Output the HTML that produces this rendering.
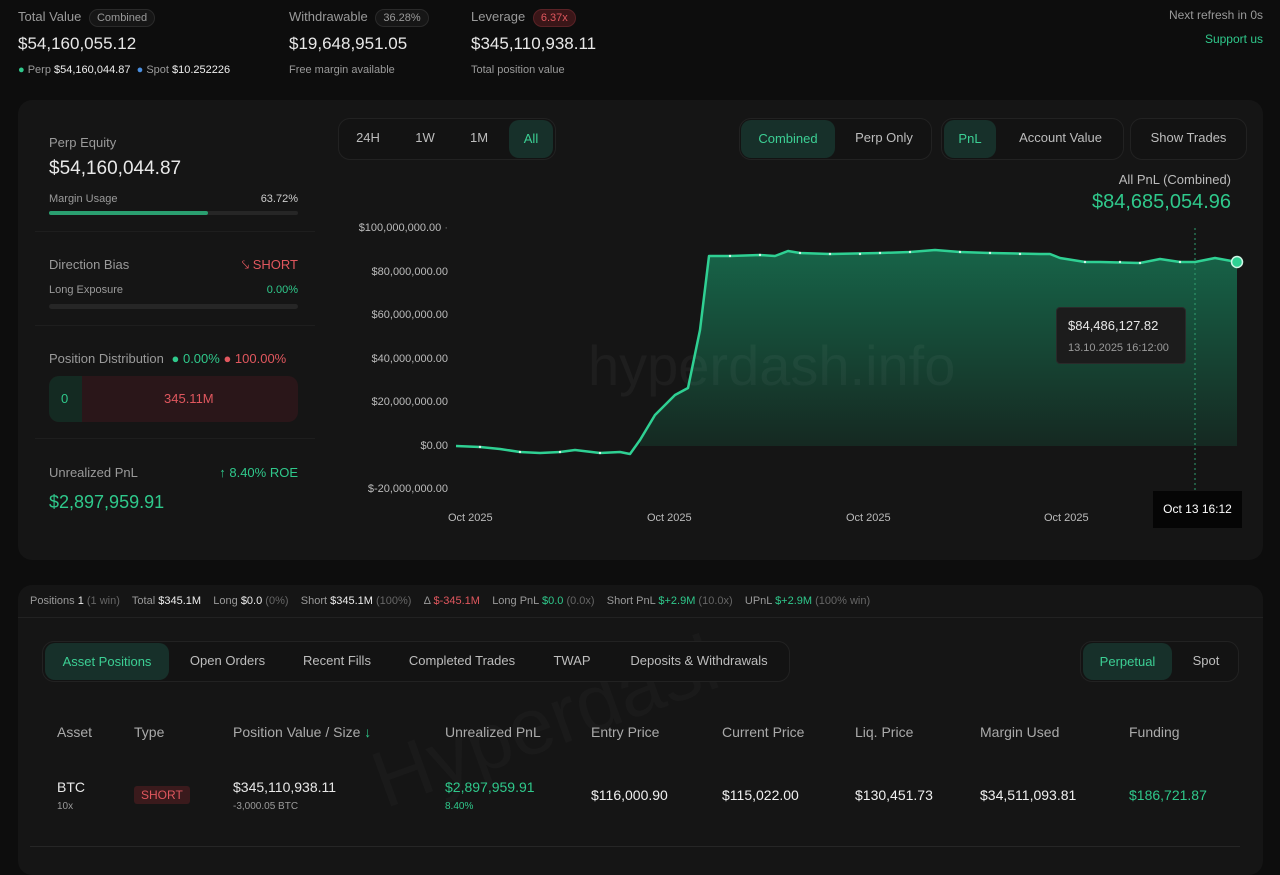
<!DOCTYPE html>
<html><head><meta charset="utf-8"><style>
*{box-sizing:border-box;margin:0;padding:0}
body{width:1280px;height:857px;overflow:hidden;background:#0d0d0d;font-family:"Liberation Sans",sans-serif;color:#e8e8e8;position:relative}
.a{position:absolute;white-space:nowrap}
.g{color:#9a9a9a}.gr{color:#2fc88b}.rd{color:#e0575e}
.pill{display:inline-block;border:1px solid #2a2a2a;border-radius:10px;padding:2px 7px;font-size:11px;color:#9a9a9a;background:#161616}
.panel{position:absolute;background:#151515;border-radius:14px}
.btn{position:absolute;font-size:13px;color:#bdbdbd;text-align:center;line-height:38px;height:38px}
.grp{position:absolute;border:1px solid #222;border-radius:12px;height:42px;background:#131313}
.on{background:#17302a;color:#3ccf94;border-radius:10px}
.yl{position:absolute;right:832px;font-size:11px;color:#bbb;text-align:right}
.th{position:absolute;top:724px;font-size:14px;color:#aaa}
.td{position:absolute;top:787px;font-size:14px;color:#f0f0f0}
</style></head><body>
<div class="a g" style="left:18px;top:9px;font-size:13px">Total Value <span class="pill" style="margin-left:4px">Combined</span></div>
<div class="a" style="left:18px;top:34px;font-size:17px">$54,160,055.12</div>
<div class="a g" style="left:18px;top:64px;font-size:11px"><span class="gr">●</span> Perp <span style="color:#eee">$54,160,044.87</span> &nbsp;<span style="color:#4a8fe0">●</span> Spot <span style="color:#eee">$10.252226</span></div>
<div class="a g" style="left:289px;top:9px;font-size:13px">Withdrawable <span class="pill" style="margin-left:4px">36.28%</span></div>
<div class="a" style="left:289px;top:34px;font-size:17px">$19,648,951.05</div>
<div class="a g" style="left:289px;top:64px;font-size:11px">Free margin available</div>
<div class="a g" style="left:471px;top:9px;font-size:13px">Leverage <span class="pill" style="margin-left:4px;background:#3a1618;border-color:#5a2226;color:#e0575e">6.37x</span></div>
<div class="a" style="left:471px;top:34px;font-size:17px">$345,110,938.11</div>
<div class="a g" style="left:471px;top:64px;font-size:11px">Total position value</div>
<div class="a g" style="right:17px;top:8px;font-size:12px">Next refresh in 0s</div>
<div class="a gr" style="right:17px;top:32px;font-size:12px">Support us</div>

<div class="panel" style="left:18px;top:100px;width:1245px;height:460px"></div>
<div class="a g" style="left:49px;top:135px;font-size:13px">Perp Equity</div>
<div class="a" style="left:49px;top:158px;font-size:19px">$54,160,044.87</div>
<div class="a g" style="left:49px;top:193px;font-size:11px">Margin Usage</div>
<div class="a" style="right:982px;top:193px;font-size:11px;color:#ccc">63.72%</div>
<div class="a" style="left:49px;top:211px;width:249px;height:4px;background:#262626;border-radius:2px"><div style="width:159px;height:4px;background:#2a9f70;border-radius:2px"></div></div>
<div class="a" style="left:35px;top:231px;width:280px;height:1px;background:#1e1e1e"></div>
<div class="a g" style="left:49px;top:257px;font-size:13px">Direction Bias</div>
<div class="a rd" style="right:982px;top:257px;font-size:13px">⤥ SHORT</div>
<div class="a g" style="left:49px;top:284px;font-size:11px">Long Exposure</div>
<div class="a gr" style="right:982px;top:284px;font-size:11px">0.00%</div>
<div class="a" style="left:49px;top:304px;width:249px;height:5px;background:#262626;border-radius:3px"></div>
<div class="a" style="left:35px;top:325px;width:280px;height:1px;background:#1e1e1e"></div>
<div class="a g" style="left:49px;top:351px;font-size:13px">Position Distribution <span class="gr" style="margin-left:4px">● 0.00%</span> <span class="rd">● 100.00%</span></div>
<div class="a" style="left:49px;top:376px;width:249px;height:46px;border-radius:10px;background:#2a1619;overflow:hidden"><div style="position:absolute;left:0;top:0;width:33px;height:46px;background:#142a22"></div><span class="a gr" style="left:12px;top:15px;font-size:13px">0</span><span class="a rd" style="left:115px;top:15px;font-size:13px">345.11M</span></div>
<div class="a" style="left:35px;top:438px;width:280px;height:1px;background:#1e1e1e"></div>
<div class="a g" style="left:49px;top:465px;font-size:13px">Unrealized PnL</div>
<div class="a gr" style="right:982px;top:465px;font-size:13px">↑ 8.40% ROE</div>
<div class="a gr" style="left:49px;top:492px;font-size:18px">$2,897,959.91</div>

<div class="grp" style="left:338px;top:118px;width:218px"></div>
<div class="btn" style="left:348px;top:119px;width:40px">24H</div>
<div class="btn" style="left:405px;top:119px;width:40px">1W</div>
<div class="btn" style="left:459px;top:119px;width:40px">1M</div>
<div class="btn on" style="left:509px;top:120px;width:44px">All</div>
<div class="grp" style="left:739px;top:118px;width:193px"></div>
<div class="btn on" style="left:741px;top:120px;width:94px">Combined</div>
<div class="btn" style="left:840px;top:119px;width:88px">Perp Only</div>
<div class="grp" style="left:941px;top:118px;width:183px"></div>
<div class="btn on" style="left:944px;top:120px;width:52px">PnL</div>
<div class="btn" style="left:1003px;top:119px;width:115px">Account Value</div>
<div class="grp" style="left:1130px;top:118px;width:117px"></div>
<div class="btn" style="left:1132px;top:119px;width:113px">Show Trades</div>
<div class="a g" style="right:49px;top:172px;font-size:13px;color:#bbb">All PnL (Combined)</div>
<div class="a gr" style="right:49px;top:191px;font-size:20px">$84,685,054.96</div>

<div class="yl" style="top:222px">$100,000,000.00 <span style="color:#777">·</span></div>
<div class="yl" style="top:266px;right:832px">$80,000,000.00</div>
<div class="yl" style="top:309px">$60,000,000.00</div>
<div class="yl" style="top:353px">$40,000,000.00</div>
<div class="yl" style="top:396px">$20,000,000.00</div>
<div class="yl" style="top:440px">$0.00</div>
<div class="yl" style="top:483px">$-20,000,000.00</div>
<div class="a" style="left:448px;top:512px;font-size:11px;color:#bbb">Oct 2025</div>
<div class="a" style="left:647px;top:512px;font-size:11px;color:#bbb">Oct 2025</div>
<div class="a" style="left:846px;top:512px;font-size:11px;color:#bbb">Oct 2025</div>
<div class="a" style="left:1044px;top:512px;font-size:11px;color:#bbb">Oct 2025</div>
<svg class="a" style="left:0;top:0" width="1280" height="560">
<defs><linearGradient id="f" x1="0" y1="0" x2="0" y2="1"><stop offset="0" stop-color="#17684b"/><stop offset="1" stop-color="#152a22"/></linearGradient></defs>
<path d="M640,446 L640,440 655,415 665,405 675,395 688,388 700,330 709,256 730,256 760,255 775,256 788,251 800,253 830,254 880,253 910,252 935,250 960,252 990,253 1040,254 1050,254 1060,258 1085,262 1100,262 1140,263 1160,259 1180,262 1195,262 1215,258 1237,262 L1237,446Z" fill="url(#f)" opacity="0.95"/>
<text x="588" y="385" font-family="Liberation Sans" font-size="56" fill="#ffffff" fill-opacity="0.04">hyperdash.info</text>
<polyline fill="none" stroke="#2fd093" stroke-width="2.5" stroke-linejoin="round" points="456,446 480,447 500,449 520,452 540,453 560,452 575,450 600,453 620,452 630,454 640,440 655,415 665,405 675,395 688,388 700,330 709,256 730,256 760,255 775,256 788,251 800,253 830,254 880,253 910,252 935,250 960,252 990,253 1040,254 1050,254 1060,258 1085,262 1100,262 1140,263 1160,259 1180,262 1195,262 1215,258 1237,262"/>
<g fill="#d8f7ea"><circle cx="730" cy="256" r="1.2"/><circle cx="760" cy="255" r="1.2"/><circle cx="800" cy="253" r="1.2"/><circle cx="830" cy="254" r="1.2"/><circle cx="860" cy="254" r="1.2"/><circle cx="880" cy="253" r="1.2"/><circle cx="910" cy="252" r="1.2"/><circle cx="960" cy="252" r="1.2"/><circle cx="990" cy="253" r="1.2"/><circle cx="1020" cy="254" r="1.2"/><circle cx="1085" cy="262" r="1.2"/><circle cx="1120" cy="262" r="1.2"/><circle cx="1140" cy="263" r="1.2"/><circle cx="1180" cy="262" r="1.2"/><circle cx="480" cy="447" r="1.2"/><circle cx="520" cy="452" r="1.2"/><circle cx="560" cy="452" r="1.2"/><circle cx="600" cy="453" r="1.2"/></g>
<line x1="1195" y1="228" x2="1195" y2="490" stroke="#2fa070" stroke-dasharray="2,3"/>
<circle cx="1237" cy="262" r="5.5" fill="#2fd093" stroke="#d0f5e5" stroke-width="1.5"/>
</svg>
<div class="a" style="left:1056px;top:307px;width:130px;height:57px;background:#1c1c1c;border:1px solid #2a2a2a;border-radius:4px"><div class="a" style="left:11px;top:10px;font-size:13px">$84,486,127.82</div><div class="a g" style="left:11px;top:34px;font-size:11px">13.10.2025 16:12:00</div></div>
<div class="a" style="left:1153px;top:491px;width:89px;height:37px;background:#050505;font-size:12px;line-height:37px;text-align:center;color:#fff">Oct 13 16:12</div>

<div class="panel" style="left:18px;top:585px;width:1245px;height:290px"></div>
<div class="a" style="left:360px;top:740px;font-size:80px;color:#1a1a1a;transform:rotate(-20deg);transform-origin:left top">Hyperdash</div>
<div class="a g" style="left:30px;top:595px;font-size:11px">Positions <span style="color:#eee">1</span> <span style="color:#666">(1 win)</span> &nbsp;&nbsp; Total <span style="color:#eee">$345.1M</span> &nbsp;&nbsp; Long <span style="color:#eee">$0.0</span> <span style="color:#666">(0%)</span> &nbsp;&nbsp; Short <span style="color:#eee">$345.1M</span> <span style="color:#666">(100%)</span> &nbsp;&nbsp; Δ <span class="rd">$-345.1M</span> &nbsp;&nbsp; Long PnL <span class="gr">$0.0</span> <span style="color:#666">(0.0x)</span> &nbsp;&nbsp; Short PnL <span class="gr">$+2.9M</span> <span style="color:#666">(10.0x)</span> &nbsp;&nbsp; UPnL <span class="gr">$+2.9M</span> <span style="color:#666">(100% win)</span></div>
<div class="a" style="left:18px;top:617px;width:1245px;height:1px;background:#222"></div>
<div class="grp" style="left:42px;top:641px;width:748px;height:41px"></div>
<div class="btn on" style="left:45px;top:643px;width:124px;height:37px;line-height:37px">Asset Positions</div>
<div class="btn" style="left:180px;top:642px;width:95px">Open Orders</div>
<div class="btn" style="left:292px;top:642px;width:90px">Recent Fills</div>
<div class="btn" style="left:398px;top:642px;width:128px">Completed Trades</div>
<div class="btn" style="left:545px;top:642px;width:54px">TWAP</div>
<div class="btn" style="left:618px;top:642px;width:162px">Deposits &amp; Withdrawals</div>
<div class="grp" style="left:1080px;top:641px;width:159px;height:41px"></div>
<div class="btn on" style="left:1083px;top:643px;width:89px;height:37px;line-height:37px">Perpetual</div>
<div class="btn" style="left:1180px;top:642px;width:52px">Spot</div>
<div class="th" style="left:57px">Asset</div><div class="th" style="left:134px">Type</div>
<div class="th" style="left:233px">Position Value / Size <span class="gr">↓</span></div>
<div class="th" style="left:445px">Unrealized PnL</div><div class="th" style="left:591px">Entry Price</div>
<div class="th" style="left:722px">Current Price</div><div class="th" style="left:855px">Liq. Price</div>
<div class="th" style="left:980px">Margin Used</div><div class="th" style="left:1129px">Funding</div>
<div class="a" style="left:57px;top:779px;font-size:14px">BTC</div>
<div class="a g" style="left:57px;top:801px;font-size:10px">10x</div>
<div class="a rd" style="left:134px;top:786px;font-size:12px;background:#3a1a1c;padding:2px 7px;border-radius:3px">SHORT</div>
<div class="a" style="left:233px;top:779px;font-size:14px">$345,110,938.11</div>
<div class="a g" style="left:233px;top:801px;font-size:10px">-3,000.05 BTC</div>
<div class="a gr" style="left:445px;top:779px;font-size:14px">$2,897,959.91</div>
<div class="a gr" style="left:445px;top:801px;font-size:10px">8.40%</div>
<div class="td" style="left:591px">$116,000.90</div><div class="td" style="left:722px">$115,022.00</div>
<div class="td" style="left:855px">$130,451.73</div><div class="td" style="left:980px">$34,511,093.81</div>
<div class="td" style="left:1129px;color:#2fc88b">$186,721.87</div>
<div class="a" style="left:30px;top:846px;width:1210px;height:1px;background:#262626"></div>
</body></html>
